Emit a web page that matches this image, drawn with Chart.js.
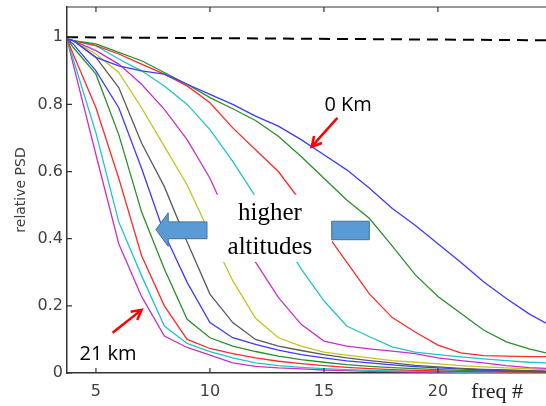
<!DOCTYPE html>
<html>
<head>
<meta charset="utf-8">
<script src="https://cdn.jsdelivr.net/npm/chart.js@4.4.0/dist/chart.umd.min.js"></script>
<style>
  html, body { margin: 0; padding: 0; background: #fff; }
  #psd-chart-content { width: 546px; height: 406px; }
</style>
</head>
<body>
<div id="psd-chart-content"><canvas id="psd-chart" width="546" height="406"></canvas></div>
<script>
// freq # sample points (first / last are the plot edges)
const freq = [3.73, 4, 5, 6, 7, 8, 9, 10, 11, 12, 13, 14, 15, 16, 17, 18, 19, 20, 21, 22, 23, 24, 24.74];

// relative PSD, from 0 km (first) to 21 km (last)
const psd01 = [.995, .99, .94, .915, .9, .89, .86, .83, .8, .765, .735, .695, .65, .605, .55, .49, .44, .385, .33, .272, .222, .176, .148];
const psd02 = [.995, .99, .98, .955, .93, .895, .86, .82, .787, .752, .705, .645, .58, .515, .46, .378, .293, .228, .178, .128, .093, .072, .06];
const psd03 = [.995, .99, .975, .95, .92, .89, .855, .805, .73, .665, .6, .51, .425, .33, .235, .165, .122, .083, .06, .052, .05, .049, .049];
const psd04 = [.995, .99, .975, .935, .9, .855, .8, .725, .63, .525, .42, .31, .215, .14, .108, .078, .062, .055, .048, .042, .037, .032, .03];
const psd05 = [.995, .99, .96, .92, .86, .785, .695, .58, .43, .33, .225, .145, .095, .08, .072, .065, .058, .045, .037, .03, .022, .016, .014];
const psd06 = [.995, .99, .95, .895, .79, .675, .56, .415, .275, .163, .105, .08, .062, .053, .045, .037, .032, .027, .022, .018, .015, .012, .01];
const psd07 = [.995, .99, .94, .85, .685, .555, .39, .235, .15, .1, .08, .067, .055, .045, .037, .03, .023, .018, .014, .011, .009, .007, .006];
const psd08 = [.995, .98, .9, .79, .61, .415, .27, .15, .105, .085, .068, .055, .045, .036, .03, .024, .019, .015, .012, .009, .007, .005, .004];
const psd09 = [.995, .97, .89, .71, .48, .31, .16, .105, .08, .064, .05, .04, .032, .025, .02, .016, .013, .01, .008, .006, .005, .004, .003];
const psd10 = [.995, .95, .79, .58, .35, .2, .1, .073, .058, .045, .035, .028, .022, .017, .013, .01, .008, .006, .005, .004, .003, .003, .002];
const psd11 = [.995, .935, .715, .45, .29, .14, .088, .064, .045, .03, .022, .017, .013, .01, .008, .006, .005, .004, .003, .003, .002, .002, .002];
const psd12 = [.995, .92, .65, .385, .228, .11, .076, .053, .03, .02, .015, .012, .009, .007, .005, .004, .003, .003, .002, .002, .002, .001, .001];

// dashed reference line
const refFreq = [3.73, 24.74];
const refPsd = [1.0, 0.991];

const xTicks = [5, 10, 15, 20];
const yTicks = [0, 0.2, 0.4, 0.6, 0.8, 1];

const series = [psd01, psd02, psd03, psd04, psd05, psd06, psd07, psd08, psd09, psd10, psd11, psd12];
const colors = ['#3b3bff', '#2a8f2a', '#ff2a2a', '#20c4c4', '#c830c8', '#c4c420', '#5a5a5a'];

const toPoints = (xs, ys) => xs.map((x, i) => ({ x: x, y: ys[i] }));

const datasets = series.map((ys, i) => ({
  label: 'curve ' + (i + 1),
  data: toPoints(freq, ys),
  borderColor: colors[i % colors.length],
  borderWidth: 1.3,
  pointRadius: 0,
  fill: false,
  tension: 0,
}));
datasets.push({
  label: 'reference',
  data: toPoints(refFreq, refPsd),
  borderColor: '#000',
  borderWidth: 2,
  borderDash: [11, 7],
  pointRadius: 0,
  fill: false,
});

// inward ticks + top border, MATLAB style
const frameTicks = {
  id: 'frameTicks',
  afterDraw(chart) {
    const { ctx, chartArea: a, scales: { x, y } } = chart;
    ctx.save();
    ctx.strokeStyle = '#333';
    ctx.lineWidth = 1.2;
    ctx.beginPath();
    ctx.moveTo(a.left, a.top);
    ctx.lineTo(a.right, a.top);
    xTicks.forEach(v => {
      const px = x.getPixelForValue(v);
      ctx.moveTo(px, a.bottom);
      ctx.lineTo(px, a.bottom - 5);
      ctx.moveTo(px, a.top);
      ctx.lineTo(px, a.top + 5);
    });
    yTicks.forEach(v => {
      const py = y.getPixelForValue(v);
      ctx.moveTo(a.left, py);
      ctx.lineTo(a.left + 5, py);
    });
    ctx.stroke();
    ctx.restore();
  },
};

function redArrow(ctx, x1, y1, x2, y2) {
  const ang = Math.atan2(y2 - y1, x2 - x1);
  const head = 11;
  ctx.beginPath();
  ctx.moveTo(x1, y1);
  ctx.lineTo(x2, y2);
  ctx.moveTo(x2 - head * Math.cos(ang - 0.5), y2 - head * Math.sin(ang - 0.5));
  ctx.lineTo(x2, y2);
  ctx.lineTo(x2 - head * Math.cos(ang + 0.5), y2 - head * Math.sin(ang + 0.5));
  ctx.stroke();
}

// annotations, placed in data coordinates
const notes = {
  box: [9.87, 15.35, 0.531, 0.331],
  bigArrow: [[7.63, .427], [8.17, .477], [8.17, .45], [9.87, .45], [9.87, .4], [8.17, .4], [8.17, .377]],
  rect: [15.34, 16.99, .452, .397],
  higher: [12.63, .457],
  altitudes: [12.63, .355],
  km0: [16.06, .797],
  km0Arrow: [15.59, .76, 14.46, .674],
  km21: [5.53, .057],
  km21Arrow: [5.73, .12, 7.0, .188],
  freqLabel: 22.59,
};

const annotate = {
  id: 'annotate',
  afterDatasetsDraw(chart) {
    const { ctx, chartArea: a, scales: { x, y } } = chart;
    const px = v => x.getPixelForValue(v);
    const py = v => y.getPixelForValue(v);
    ctx.save();

    const b = notes.box;
    ctx.fillStyle = '#fff';
    ctx.fillRect(px(b[0]), py(b[2]), px(b[1]) - px(b[0]), py(b[3]) - py(b[2]));

    ctx.fillStyle = '#5b9bd5';
    ctx.strokeStyle = '#41719c';
    ctx.lineWidth = 1;
    ctx.beginPath();
    notes.bigArrow.forEach((p, i) => {
      if (i === 0) ctx.moveTo(px(p[0]), py(p[1]));
      else ctx.lineTo(px(p[0]), py(p[1]));
    });
    ctx.closePath();
    ctx.fill();
    ctx.stroke();

    const r = notes.rect;
    ctx.beginPath();
    ctx.rect(px(r[0]), py(r[2]), px(r[1]) - px(r[0]), py(r[3]) - py(r[2]));
    ctx.fill();
    ctx.stroke();

    ctx.fillStyle = '#000';
    ctx.textAlign = 'center';
    ctx.textBaseline = 'alphabetic';
    ctx.font = '25px "Liberation Serif"';
    ctx.fillText('higher', px(notes.higher[0]), py(notes.higher[1]));
    ctx.fillText('altitudes', px(notes.altitudes[0]), py(notes.altitudes[1]));

    ctx.font = '20px "Open Sans"';
    ctx.textBaseline = 'middle';
    ctx.fillText('0 Km', px(notes.km0[0]), py(notes.km0[1]));
    ctx.fillText('21 km', px(notes.km21[0]), py(notes.km21[1]));

    ctx.strokeStyle = '#ff0000';
    ctx.lineWidth = 2.5;
    let k = notes.km0Arrow;
    redArrow(ctx, px(k[0]), py(k[1]), px(k[2]), py(k[3]));
    k = notes.km21Arrow;
    redArrow(ctx, px(k[0]), py(k[1]), px(k[2]), py(k[3]));

    ctx.font = '22px "Liberation Serif"';
    ctx.textBaseline = 'alphabetic';
    ctx.fillStyle = '#222';
    ctx.fillText('freq #', px(notes.freqLabel), a.bottom + 25);
    ctx.restore();
  },
};

const config = {
  type: 'line',
  data: { datasets: datasets },
  options: {
    responsive: false,
    animation: false,
    devicePixelRatio: 1,
    layout: { padding: { top: 7, right: 0, left: 0, bottom: 0 } },
    plugins: {
      legend: { display: false },
      tooltip: { enabled: false },
    },
    scales: {
      x: {
        type: 'linear',
        min: 3.73,
        max: 24.74,
        afterBuildTicks: s => { s.ticks = xTicks.map(v => ({ value: v })); },
        afterFit: s => {
          s.height = 33;
          s.paddingLeft = 0;
          s.paddingRight = 0;
        },
        grid: { display: false, drawTicks: false },
        border: { display: true, color: '#333', width: 1.5 },
        ticks: {
          padding: 9,
          color: '#404040',
          font: { family: 'DejaVu Sans', size: 16 },
          callback: v => String(v),
        },
      },
      y: {
        min: 0,
        max: 1.09,
        afterBuildTicks: s => { s.ticks = yTicks.map(v => ({ value: v })); },
        afterFit: s => {
          s.width = 67;
          s.paddingTop = 0;
          s.paddingBottom = 0;
        },
        grid: { display: false, drawTicks: false },
        border: { display: true, color: '#333', width: 1.5 },
        ticks: {
          padding: 4,
          color: '#404040',
          font: { family: 'DejaVu Sans', size: 16 },
          callback: v => String(v),
        },
        title: {
          display: true,
          text: 'relative PSD',
          color: '#404040',
          font: { family: 'DejaVu Sans', size: 14 },
          padding: { top: 13, bottom: 0 },
        },
      },
    },
  },
  plugins: [frameTicks, annotate],
};

const ctx = document.getElementById('psd-chart').getContext('2d');
window.psdChart = new Chart(ctx, config);
</script>
</body>
</html>
